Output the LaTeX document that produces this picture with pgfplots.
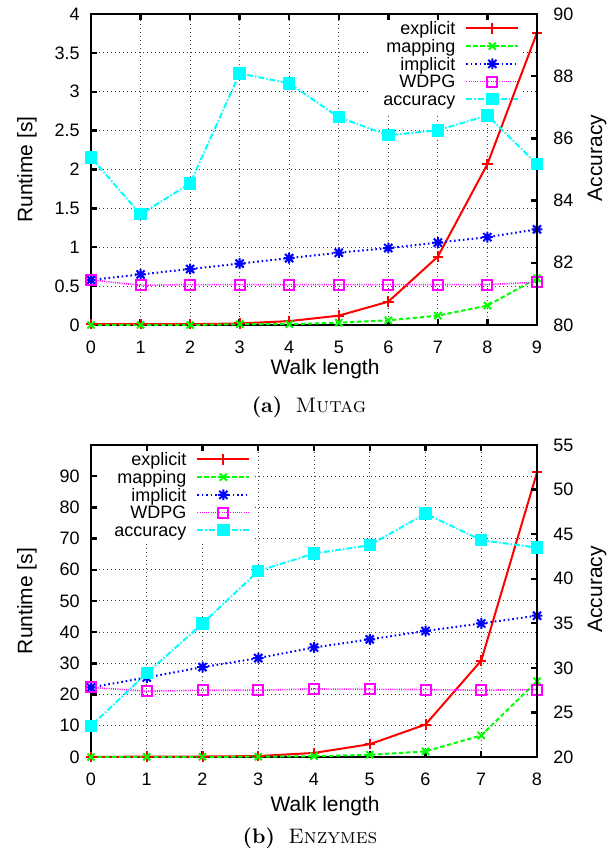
\documentclass[border=0pt]{standalone}
\usepackage{pgfplots}
\pgfplotsset{compat=1.18}
\usepackage{fontspec}
\newfontfamily\sans{Liberation Sans}

\definecolor{gpred}{RGB}{255,0,0}
\definecolor{gpgreen}{RGB}{0,255,0}
\definecolor{gpblue}{RGB}{0,0,255}
\definecolor{gpmag}{RGB}{255,0,255}
\definecolor{gpcyan}{RGB}{0,255,255}

\pgfdeclareplotmark{gpstar}{%
  \pgfpathmoveto{\pgfqpoint{-\pgfplotmarksize}{0pt}}\pgfpathlineto{\pgfqpoint{\pgfplotmarksize}{0pt}}%
  \pgfpathmoveto{\pgfqpoint{0pt}{-\pgfplotmarksize}}\pgfpathlineto{\pgfqpoint{0pt}{\pgfplotmarksize}}%
  \pgfpathmoveto{\pgfqpoint{-0.75\pgfplotmarksize}{-0.75\pgfplotmarksize}}\pgfpathlineto{\pgfqpoint{0.75\pgfplotmarksize}{0.75\pgfplotmarksize}}%
  \pgfpathmoveto{\pgfqpoint{-0.75\pgfplotmarksize}{0.75\pgfplotmarksize}}\pgfpathlineto{\pgfqpoint{0.75\pgfplotmarksize}{-0.75\pgfplotmarksize}}%
  \pgfusepathqstroke}

\pgfplotsset{
  sexp/.style={color=gpred, solid, line width=1pt, mark=+, mark size=2.6pt, mark options={solid}},
  smap/.style={color=gpgreen, dash pattern=on 2.2pt off 1.3pt, line width=1pt, mark=x, mark size=2.5pt, mark options={solid}},
  simp/.style={color=gpblue, dash pattern=on 0.8pt off 1.4pt, line width=1pt, mark=gpstar, mark size=2.7pt, mark options={solid}},
  swd/.style={color=gpmag, dash pattern=on 0.5pt off 0.6pt, line width=0.8pt, mark=square, mark size=2.5pt, mark options={solid,line width=1pt}},
  sacc/.style={color=gpcyan, dash pattern=on 3pt off 1pt on 0.7pt off 1pt, line width=1pt, mark=square*, mark size=2.6pt, mark options={solid, fill=gpcyan}},
  gpbase/.style={
    scale only axis, width=223pt, anchor=south west, clip=false,
    axis line style={line width=1.4pt},
    tick style={black, line width=1.2pt}, major tick length=3pt, tick align=inside,
    tick label style={font=\sans\fontsize{9}{10}\selectfont},
    label style={font=\sans\fontsize{10.5}{12}\selectfont},
    /pgf/number format/assume math mode=true,
  },
  gridax/.style={
    gpbase, xtick pos=both, ytick pos=left,
    axis line style={draw=none}, major tick length=0pt,
    xticklabels={}, yticklabels={},
    grid=major, grid style={black!75, line width=0.5pt, dash pattern=on 0.5pt off 1.5pt},
    legend image code/.code={\draw[mark repeat=2,mark phase=2,##1] plot coordinates {(0pt,0pt)(13pt,0pt)(26pt,0pt)};},
    legend plot pos=right,
    legend style={draw=none, fill=white, inner xsep=2pt, inner ysep=2.6pt,
      font=\sans\fontsize{9}{10}\selectfont, row sep=0pt,
      nodes={inner sep=0pt, text height=7.6pt, text depth=1.25pt},
      /tikz/every odd column/.append style={column sep=5pt}},
  },
  leftax/.style={
    gpbase, xtick pos=both, ytick pos=left,
    xticklabel style={anchor=center, inner sep=0pt},
    yticklabel style={anchor=east, inner sep=0pt, xshift=-5.5pt},
    ylabel={Runtime [s]}, xlabel={Walk length},
    ylabel style={at={(axis description cs:-0.1435,0.5)}, anchor=center},
  },
  rightax/.style={
    gpbase, hide x axis, axis y line*=right, tick align=inside,
    yticklabel style={anchor=west, inner sep=0pt, xshift=8pt},
    ylabel={Accuracy},
    ylabel style={at={(axis description cs:1.1345,0.537)}, anchor=center},
  },
}

\begin{document}
\begin{tikzpicture}

% ---------------- (a) MUTAG ----------------
\begin{axis}[gridax,
  at={(45.5pt,262.5pt)}, height=155.5pt,
  xmin=0, xmax=9, ymin=0, ymax=4,
  xtick={0,1,2,3,4,5,6,7,8,9},
  ytick={0,0.5,1,1.5,2,2.5,3,3.5,4},
  legend style={at={(0.6256,1)}, anchor=north west},
]
\addlegendimage{sexp}\addlegendentry{\makebox[40.5pt][r]{explicit}}
\addlegendimage{smap}\addlegendentry{\makebox[40.5pt][r]{mapping}}
\addlegendimage{simp}\addlegendentry{\makebox[40.5pt][r]{implicit}}
\addlegendimage{swd}\addlegendentry{\makebox[40.5pt][r]{WDPG}}
\addlegendimage{sacc}\addlegendentry{\makebox[40.5pt][r]{accuracy}}
\end{axis}

\begin{axis}[leftax,
  at={(45.5pt,262.5pt)}, height=155.5pt,
  xmin=0, xmax=9, ymin=0, ymax=4,
  xtick={0,1,2,3,4,5,6,7,8,9},
  ytick={0,0.5,1,1.5,2,2.5,3,3.5,4},
  xticklabel style={yshift=-11.3pt},
  xlabel style={at={(axis description cs:0.5247,0)}, anchor=center, yshift=-22pt},
]
\addplot[sexp] coordinates {(0,0.01)(1,0.01)(2,0.01)(3,0.02)(4,0.05)(5,0.12)(6,0.30)(7,0.88)(8,2.07)(9,3.76)};
\addplot[smap] coordinates {(0,0.00)(1,0.00)(2,0.00)(3,0.01)(4,0.01)(5,0.03)(6,0.06)(7,0.12)(8,0.25)(9,0.60)};
\addplot[simp] coordinates {(0,0.58)(1,0.65)(2,0.72)(3,0.79)(4,0.86)(5,0.93)(6,0.99)(7,1.06)(8,1.13)(9,1.23)};
\addplot[swd] coordinates {(0,0.58)(1,0.51)(2,0.52)(3,0.52)(4,0.52)(5,0.52)(6,0.52)(7,0.52)(8,0.52)(9,0.55)};
\end{axis}

\begin{axis}[rightax,
  at={(45.5pt,262.5pt)}, height=155.5pt,
  xmin=0, xmax=9, ymin=80, ymax=90,
  ytick={80,82,84,86,88,90},
]
\addplot[sacc] coordinates {(0,85.39)(1,83.56)(2,84.55)(3,88.09)(4,87.77)(5,86.68)(6,86.10)(7,86.26)(8,86.74)(9,85.17)};
\end{axis}

\node[font=\fontsize{10.5}{12}\selectfont] at (154.5pt,221.5pt) {\textbf{(a)}\hspace{0.64em}\textsc{Mutag}};

% ---------------- (b) ENZYMES ----------------
\begin{axis}[gridax,
  at={(45.5pt,46.5pt)}, height=156pt,
  xmin=0, xmax=8, ymin=0, ymax=100,
  xtick={0,1,2,3,4,5,6,7,8},
  ytick={0,10,20,30,40,50,60,70,80,90},
  legend style={at={(0,1)}, anchor=north west},
]
\addlegendimage{sexp}\addlegendentry{\makebox[45.5pt][r]{explicit}}
\addlegendimage{smap}\addlegendentry{\makebox[45.5pt][r]{mapping}}
\addlegendimage{simp}\addlegendentry{\makebox[45.5pt][r]{implicit}}
\addlegendimage{swd}\addlegendentry{\makebox[45.5pt][r]{WDPG}}
\addlegendimage{sacc}\addlegendentry{\makebox[45.5pt][r]{accuracy}}
\end{axis}

\begin{axis}[leftax,
  at={(45.5pt,46.5pt)}, height=156pt,
  xmin=0, xmax=8, ymin=0, ymax=100,
  xtick={0,1,2,3,4,5,6,7,8},
  ytick={0,10,20,30,40,50,60,70,80,90},
  xticklabel style={yshift=-11pt},
  xlabel style={at={(axis description cs:0.5247,0)}, anchor=center, yshift=-24.5pt},
]
\addplot[sexp] coordinates {(0,0.05)(1,0.1)(2,0.15)(3,0.3)(4,1.3)(5,4.1)(6,10.4)(7,30.9)(8,91.2)};
\addplot[smap] coordinates {(0,0.02)(1,0.04)(2,0.06)(3,0.1)(4,0.25)(5,0.7)(6,1.8)(7,6.9)(8,24.3)};
\addplot[simp] coordinates {(0,22.3)(1,25.5)(2,28.8)(3,31.7)(4,35.1)(5,37.7)(6,40.4)(7,42.8)(8,45.3)};
\addplot[swd] coordinates {(0,22.3)(1,21.1)(2,21.4)(3,21.4)(4,21.8)(5,21.7)(6,21.6)(7,21.4)(8,21.6)};
\end{axis}

\begin{axis}[rightax,
  at={(45.5pt,46.5pt)}, height=156pt,
  xmin=0, xmax=8, ymin=20, ymax=55,
  ytick={20,25,30,35,40,45,50,55},
]
\addplot[sacc] coordinates {(0,23.48)(1,29.4)(2,34.96)(3,40.87)(4,42.82)(5,43.76)(6,47.3)(7,44.32)(8,43.49)};
\end{axis}

\node[font=\fontsize{10.5}{12}\selectfont] at (155pt,6pt) {\textbf{(b)}\hspace{0.64em}\textsc{Enzymes}};

\pgfresetboundingbox
\path[use as bounding box] (0,0) rectangle (305pt,425pt);
\end{tikzpicture}
\end{document}
